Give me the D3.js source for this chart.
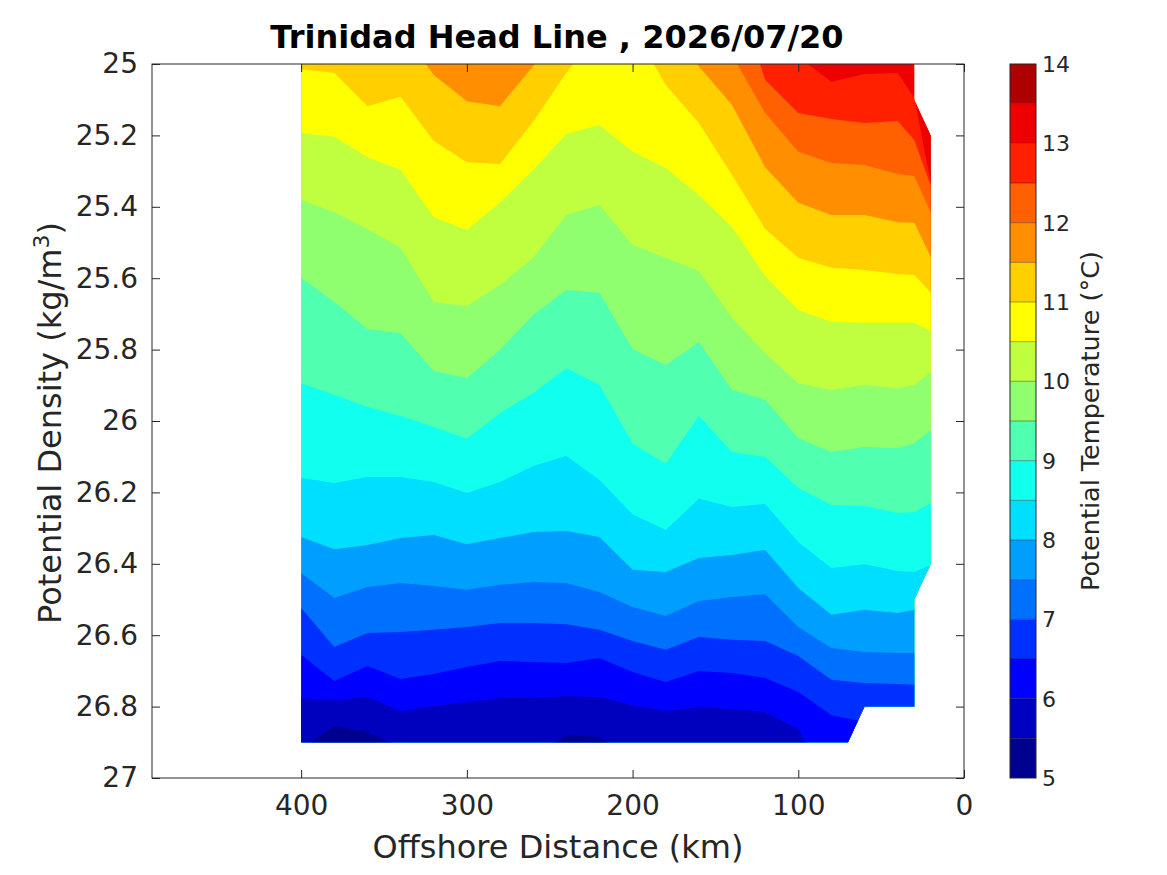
<!DOCTYPE html>
<html><head><meta charset="utf-8">
<script src="https://cdn.jsdelivr.net/npm/d3@7"></script>
<style>
html,body{margin:0;padding:0;background:#fff;}
svg text{font-family:"DejaVu Sans",sans-serif;}
</style></head><body>
<svg id="chart" width="1167" height="875"></svg>
<script>
// ---------- data (offshore distance in km, potential density of each isotherm in kg/m^3) ----------
const stations = [400,380,360,340,320,300,280,260,240,220,200,180,160,140,120,100,80,60,40,30,20];

const iso13_5 = [24.90,24.90,24.90,24.90,24.90,24.90,24.90,24.90,24.90,24.90,24.90,24.90,24.90,24.90,24.90,24.90,24.90,24.90,24.90,24.90,24.90];
const iso13   = [24.88,24.88,24.88,24.88,24.88,24.88,24.88,24.88,24.88,24.88,24.88,24.88,24.88,24.88,24.88,24.98,25.05,25.028,25.025,25.095,25.333];
const iso12_5 = [24.75,24.75,24.75,24.75,24.75,24.75,24.75,24.75,24.75,24.75,24.75,24.75,24.75,24.75,25.045,25.137,25.154,25.165,25.160,25.213,25.342];
const iso12   = [24.88,24.88,24.88,24.88,24.88,24.88,24.88,24.88,24.88,24.88,24.88,24.88,24.88,24.975,25.137,25.246,25.277,25.283,25.308,25.314,25.417];
const iso11_5 = [24.88,24.88,24.88,24.902,25.031,25.104,25.118,25.006,24.88,24.88,24.88,24.88,25.006,25.115,25.289,25.389,25.423,25.423,25.443,25.445,25.541];
const iso11   = [25.014,25.025,25.118,25.092,25.216,25.275,25.280,25.162,25.025,24.905,24.896,25.059,25.165,25.311,25.462,25.543,25.571,25.577,25.588,25.591,25.641];
const iso10_5 = [25.193,25.204,25.261,25.297,25.429,25.465,25.387,25.297,25.196,25.171,25.246,25.291,25.367,25.457,25.594,25.689,25.723,25.725,25.725,25.725,25.748];
const iso10   = [25.381,25.415,25.462,25.515,25.667,25.678,25.619,25.543,25.423,25.395,25.507,25.543,25.580,25.711,25.810,25.894,25.913,25.899,25.908,25.899,25.863];
const iso9_5  = [25.599,25.667,25.742,25.754,25.860,25.880,25.801,25.703,25.633,25.641,25.798,25.843,25.779,25.913,25.941,26.048,26.087,26.073,26.076,26.062,26.025];
const iso9    = [25.894,25.927,25.961,25.986,26.017,26.050,25.978,25.922,25.852,25.899,26.064,26.120,25.986,26.087,26.101,26.188,26.235,26.238,26.258,26.255,26.230];
const iso8_5  = [26.160,26.174,26.157,26.157,26.171,26.202,26.171,26.126,26.098,26.165,26.261,26.305,26.218,26.241,26.232,26.339,26.412,26.401,26.420,26.423,26.403];
const iso8    = [26.325,26.359,26.347,26.328,26.319,26.345,26.328,26.311,26.308,26.325,26.417,26.423,26.384,26.375,26.361,26.468,26.543,26.529,26.538,26.529,26.501];
const iso7_5  = [26.426,26.496,26.465,26.454,26.462,26.473,26.459,26.451,26.454,26.479,26.521,26.546,26.504,26.493,26.485,26.577,26.636,26.647,26.650,26.650,26.641];
const iso7    = [26.524,26.633,26.594,26.591,26.585,26.577,26.566,26.566,26.569,26.585,26.616,26.641,26.605,26.613,26.616,26.658,26.725,26.734,26.737,26.739,26.754];
const iso6_5  = [26.655,26.728,26.686,26.723,26.709,26.689,26.672,26.675,26.678,26.664,26.703,26.731,26.700,26.706,26.720,26.759,26.824,26.843,26.866,26.866,26.866];
const iso6    = [26.776,26.782,26.773,26.812,26.798,26.787,26.776,26.776,26.770,26.773,26.796,26.812,26.801,26.807,26.815,26.863,27.034,27.05,27.05,27.05,27.05];
const iso5_5  = [26.919,26.854,26.871,26.913,26.922,26.916,26.902,26.936,26.880,26.885,26.944,27.0,27.0,27.0,27.0,27.0,27.1,27.1,27.1,27.1,27.1];

const isoLevels = [5.5,6,6.5,7,7.5,8,8.5,9,9.5,10,10.5,11,11.5,12,12.5,13,13.5];
const isoLines  = [iso5_5,iso6,iso6_5,iso7,iso7_5,iso8,iso8_5,iso9,iso9_5,iso10,iso10_5,iso11,iso11_5,iso12,iso12_5,iso13,iso13_5];

// outline of the sampled section (where data exist)
const outlineDist = [400,30,30,20,20,30,30,60,70,400];
const outlineDens = [25.0,25.0,25.1,25.2,26.4,26.5,26.8,26.8,26.9,26.9];

const xTicks  = [400,300,200,100,0];
const yTicks  = [25,25.2,25.4,25.6,25.8,26,26.2,26.4,26.6,26.8,27];
const cbTicks = [5,6,7,8,9,10,11,12,13,14];
const cbLevels = d3.range(5,14.01,0.5);

const titleText = "Trinidad Head Line , 2026/07/20";

// ---------- colormap (jet, 64 entries) ----------
function jet(m){
  const n = Math.ceil(m/4);
  const u = [];
  for(let i=1;i<=n;i++) u.push(i/n);
  for(let i=1;i<=n-1;i++) u.push(1);
  for(let i=n;i>=1;i--) u.push(i/n);
  const g0 = Math.ceil(n/2) - (m%4===1?1:0);
  const R = new Array(m).fill(0), G = new Array(m).fill(0), B = new Array(m).fill(0);
  u.forEach((v,k)=>{
    const gi = g0 + k + 1, ri = gi + n, bi = gi - n;
    if(gi>=1 && gi<=m) G[gi-1]=v;
    if(ri>=1 && ri<=m) R[ri-1]=v;
    if(bi>=1 && bi<=m) B[bi-1]=v;
  });
  return d3.range(m).map(i=>d3.rgb(Math.round(R[i]*255),Math.round(G[i]*255),Math.round(B[i]*255)).formatHex());
}
const cmap = jet(64);
function bandColor(lower){
  const idx = Math.max(0, Math.min(63, Math.floor((lower-5)/9*64)));
  return cmap[idx];
}

// ---------- drawing ----------
const svg = d3.select('#chart');
const x = d3.scaleLinear().domain([490,0]).range([152,964]);
const y = d3.scaleLinear().domain([25,27]).range([64,778]);
const axisColor = '#262626';

const outlinePts = outlineDist.map((d,i)=>[x(d), y(outlineDens[i])]);
const outlinePath = d3.line()(outlinePts) + 'Z';

svg.append('defs').append('clipPath').attr('id','dataClip')
  .append('path').attr('d', outlinePath);

const field = svg.append('g').attr('clip-path','url(#dataClip)');
field.append('path').attr('d', outlinePath).attr('fill', bandColor(13.5));

const area = d3.area()
  .x(d=>x(d[0]))
  .y0(d=>y(d[1]))
  .y1(y(27.3));

for(let k=isoLevels.length-1;k>=0;k--){
  const lvl = isoLevels[k];
  const pts = stations.map((s,i)=>[s, isoLines[k][i]]);
  field.append('path')
    .attr('d', area(pts))
    .attr('fill', bandColor(lvl-0.5));
}

// axes
const tickFont = 28;
const gx = svg.append('g').attr('transform','translate(0,778)')
  .call(d3.axisBottom(x).tickValues(xTicks).tickFormat(d3.format('d')).tickSizeInner(-8).tickSizeOuter(0).tickPadding(17));
const gxt = svg.append('g').attr('transform','translate(0,64)')
  .call(d3.axisTop(x).tickValues(xTicks).tickFormat('').tickSizeInner(-8).tickSizeOuter(0));
const gy = svg.append('g').attr('transform','translate(152,0)')
  .call(d3.axisLeft(y).tickValues(yTicks).tickFormat(d=>String(+d.toFixed(1))).tickSizeInner(-8).tickSizeOuter(0).tickPadding(14));
const gyr = svg.append('g').attr('transform','translate(964,0)')
  .call(d3.axisRight(y).tickValues(yTicks).tickFormat('').tickSizeInner(-8).tickSizeOuter(0));
[gx,gxt,gy,gyr].forEach(g=>{
  g.select('.domain').remove();
  g.selectAll('line').attr('stroke',axisColor);
  g.selectAll('text').attr('fill',axisColor).style('font-size',tickFont+'px').style('font-family','"DejaVu Sans",sans-serif');
});
svg.append('rect').attr('x',152).attr('y',64).attr('width',812).attr('height',714)
  .attr('fill','none').attr('stroke',axisColor).attr('stroke-width',1);

// axis labels
svg.append('text').attr('x',558).attr('y',858).attr('text-anchor','middle')
  .attr('fill',axisColor).style('font-size','32px').text('Offshore Distance (km)');
const yl = svg.append('text').attr('transform','translate(61,423) rotate(-90)').attr('text-anchor','middle')
  .attr('fill',axisColor).style('font-size','32px');
yl.append('tspan').text('Potential Density (kg/m');
yl.append('tspan').attr('dy',-12).style('font-size','22px').text('3');
yl.append('tspan').attr('dy',12).text(')');

// title
svg.append('text').attr('x',557).attr('y',48).attr('text-anchor','middle')
  .attr('fill','#000').style('font-size','32px').style('font-weight','bold').text(titleText);

// colorbar
const cy = d3.scaleLinear().domain([5,14]).range([778,64]);
const cb = svg.append('g');
cb.selectAll('rect.band').data(cbLevels.slice(0,-1)).join('rect')
  .attr('class','band')
  .attr('x',1010).attr('width',26)
  .attr('y',d=>cy(d+0.5)).attr('height',d=>cy(d)-cy(d+0.5))
  .attr('fill',d=>bandColor(d));
cb.selectAll('line.sep').data(cbLevels.slice(1,-1)).join('line')
  .attr('class','sep')
  .attr('x1',1010).attr('x2',1036)
  .attr('y1',d=>cy(d)).attr('y2',d=>cy(d))
  .attr('stroke','#000').attr('stroke-opacity',0.45).attr('stroke-width',0.8);
cb.append('rect').attr('x',1010).attr('y',64).attr('width',26).attr('height',714)
  .attr('fill','none').attr('stroke',axisColor).attr('stroke-width',1);
cb.selectAll('text.cbt').data(cbTicks).join('text')
  .attr('class','cbt')
  .attr('x',1042).attr('y',d=>cy(d)).attr('dy','0.36em')
  .attr('fill',axisColor).style('font-size','22px').text(d=>d);
svg.append('text').attr('transform','translate(1099,421) rotate(-90)').attr('text-anchor','middle')
  .attr('fill',axisColor).style('font-size','25.5px').text('Potential Temperature (°C)');
</script>
</body></html>
